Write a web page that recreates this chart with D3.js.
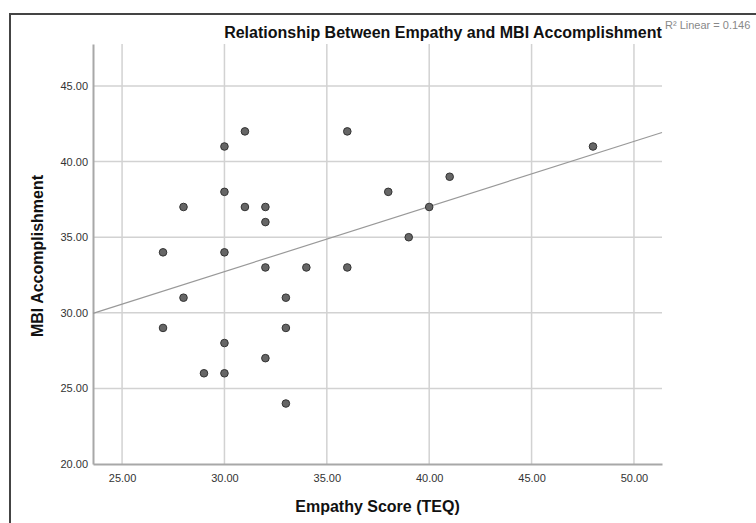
<!DOCTYPE html>
<html>
<head>
<meta charset="utf-8">
<script src="https://cdn.jsdelivr.net/npm/d3@7"></script>
<style>
  body { margin: 0; background: #fff; }
  svg { display: block; font-family: "Liberation Sans", Arial, sans-serif; }
</style>
</head>
<body>
<div id="chart"></div>
<script>
// Data (Empathy TEQ vs MBI Accomplishment)
const empathy = [27, 27, 28, 28, 29, 30, 30, 30, 30, 30, 31, 31, 32, 32, 32, 32, 33, 33, 33, 34, 36, 36, 38, 39, 40, 41, 48];
const accomplishment = [34, 29, 37, 31, 26, 41, 38, 34, 28, 26, 42, 37, 37, 36, 33, 27, 31, 29, 24, 33, 42, 33, 38, 35, 37, 39, 41];
const xTicks = [25, 30, 35, 40, 45, 50];
const yTicks = [20, 25, 30, 35, 40, 45];
const fitLabel = 'R\u00B2 Linear = 0.146';

const width = 756, height = 523;
const margin = { top: 44, right: 94, bottom: 59, left: 93 };
const innerW = width - margin.left - margin.right;
const innerH = height - margin.top - margin.bottom;

const svg = d3.select('#chart').append('svg')
  .attr('width', width)
  .attr('height', height);

// outer frame (runs off the right/bottom edge like the source)
svg.append('path')
  .attr('d', `M10,${height + 5} L10,14 L${width + 5},14`)
  .attr('fill', 'none')
  .attr('stroke', '#444')
  .attr('stroke-width', 2);

const g = svg.append('g')
  .attr('transform', `translate(${margin.left},${margin.top})`);

const x = d3.scaleLinear().domain([23.58, 51.37]).range([0, innerW]);
const y = d3.scaleLinear().domain([20, 47.78]).range([innerH, 0]);

// gridlines
g.append('g').selectAll('line').data(xTicks).join('line')
  .attr('x1', d => x(d)).attr('x2', d => x(d))
  .attr('y1', 0).attr('y2', innerH)
  .attr('stroke', '#d2d2d2').attr('stroke-width', 1.5);
g.append('g').selectAll('line').data(yTicks.filter(d => d > 20)).join('line')
  .attr('x1', 0).attr('x2', innerW)
  .attr('y1', d => y(d)).attr('y2', d => y(d))
  .attr('stroke', '#d2d2d2').attr('stroke-width', 1.5);

// axes
const xAxis = d3.axisBottom(x).tickValues(xTicks).tickSize(0).tickPadding(10)
  .tickFormat(d3.format('.2f'));
g.append('g')
  .attr('transform', `translate(0,${innerH})`)
  .call(xAxis)
  .call(a => a.select('.domain').attr('stroke', '#a8a8a8').attr('stroke-width', 2))
  .call(a => a.selectAll('text').attr('fill', '#333').attr('font-size', '11px')
    .attr('font-family', '"Liberation Sans", Arial, sans-serif'));

const yAxis = d3.axisLeft(y).tickValues(yTicks).tickSize(0).tickPadding(5)
  .tickFormat(d3.format('.2f'));
g.append('g')
  .call(yAxis)
  .call(a => a.select('.domain').attr('stroke', '#a8a8a8').attr('stroke-width', 2))
  .call(a => a.selectAll('text').attr('fill', '#333').attr('font-size', '11px')
    .attr('font-family', '"Liberation Sans", Arial, sans-serif'));

// linear fit from the points
const pts = empathy.map((e, i) => ({ x: e, y: accomplishment[i] }));
const mx = d3.mean(pts, d => d.x), my = d3.mean(pts, d => d.y);
const slope = d3.sum(pts, d => (d.x - mx) * (d.y - my)) / d3.sum(pts, d => (d.x - mx) ** 2);
const intercept = my - slope * mx;
const [x0, x1] = x.domain();
g.append('line')
  .attr('x1', x(x0)).attr('y1', y(intercept + slope * x0))
  .attr('x2', x(x1)).attr('y2', y(intercept + slope * x1))
  .attr('stroke', '#999').attr('stroke-width', 1.2);

// points
g.append('g').selectAll('circle').data(pts).join('circle')
  .attr('cx', d => x(d.x))
  .attr('cy', d => y(d.y))
  .attr('r', 3.8)
  .attr('fill', '#666')
  .attr('stroke', '#333')
  .attr('stroke-width', 1);

// titles
svg.append('text')
  .attr('x', 443).attr('y', 38)
  .attr('text-anchor', 'middle')
  .attr('font-size', '16px').attr('font-weight', 'bold').attr('fill', '#111')
  .text('Relationship Between Empathy and MBI Accomplishment');

svg.append('text')
  .attr('x', margin.left + innerW / 2).attr('y', 512)
  .attr('text-anchor', 'middle')
  .attr('font-size', '16px').attr('font-weight', 'bold').attr('fill', '#111')
  .text('Empathy Score (TEQ)');

svg.append('text')
  .attr('transform', `translate(43,${margin.top + innerH / 2 + 2}) rotate(-90)`)
  .attr('text-anchor', 'middle')
  .attr('font-size', '16px').attr('font-weight', 'bold').attr('fill', '#111')
  .text('MBI Accomplishment');

svg.append('text')
  .attr('x', 665).attr('y', 29)
  .attr('font-size', '11px').attr('fill', '#888')
  .text(fitLabel);
</script>
</body>
</html>
